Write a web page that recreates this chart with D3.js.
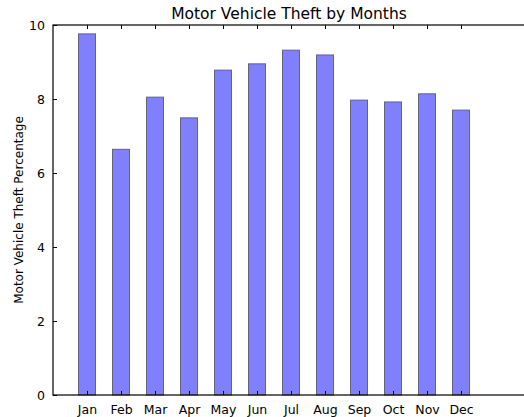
<!DOCTYPE html>
<html>
<head>
<meta charset="utf-8">
<script src="https://d3js.org/d3.v7.min.js"></script>
<style>
  body { margin: 0; background: #fff; }
  text { font-family: "DejaVu Sans", sans-serif; fill: #000; }
</style>
</head>
<body>
<div id="chart"></div>
<script>
var months = ["Jan", "Feb", "Mar", "Apr", "May", "Jun", "Jul", "Aug", "Sep", "Oct", "Nov", "Dec"];
var theftPct = [9.76, 6.64, 8.05, 7.49, 8.78, 8.95, 9.32, 9.19, 7.97, 7.92, 8.14, 7.70];
var yTicks = [0, 2, 4, 6, 8, 10];

var width = 524, height = 417;
// note: "top" is taken by window.top, so use plot* names
var plotLeft = 53, plotTop = 25, plotBottom = 395, plotRight = 529;

var svg = d3.select("#chart").append("svg")
  .attr("width", width)
  .attr("height", height);

// matplotlib style: bars at 0..11, xlim -1..13
var x = d3.scaleLinear().domain([-1, 13]).range([plotLeft, plotRight]);
var y = d3.scaleLinear().domain([0, 10]).range([plotBottom, plotTop]);
var barW = x(0.5) - x(0);

svg.selectAll("rect.bar")
  .data(theftPct)
  .enter()
  .append("rect")
  .attr("class", "bar")
  .attr("x", function(d, i) { return x(i) - barW / 2; })
  .attr("y", function(d) { return y(d); })
  .attr("width", barW)
  .attr("height", function(d) { return y(0) - y(d); })
  .attr("fill", "#8080ff")
  .attr("stroke", "#666")
  .attr("stroke-width", 1);

// frame
svg.append("rect")
  .attr("x", plotLeft).attr("y", plotTop)
  .attr("width", plotRight - plotLeft).attr("height", plotBottom - plotTop)
  .attr("fill", "none").attr("stroke", "#000").attr("stroke-width", 1.2);

// x axis ticks (inside, bottom + top)
var xAxis = d3.axisBottom(x)
  .tickValues(d3.range(months.length))
  .tickFormat(function(d) { return months[d]; })
  .tickSizeInner(-4).tickSizeOuter(0).tickPadding(10);
var gx = svg.append("g").attr("transform", "translate(0," + plotBottom + ")").call(xAxis);
gx.select(".domain").remove();
gx.selectAll("text").attr("font-size", 12.5).attr("font-family", "DejaVu Sans");

var xTop = d3.axisTop(x).tickValues(d3.range(months.length))
  .tickFormat("").tickSizeInner(-4).tickSizeOuter(0);
var gxt = svg.append("g").attr("transform", "translate(0," + plotTop + ")").call(xTop);
gxt.select(".domain").remove();

// y axis
var yAxis = d3.axisLeft(y).tickValues(yTicks).tickFormat(d3.format("d"))
  .tickSizeInner(-4).tickSizeOuter(0).tickPadding(8);
var gy = svg.append("g").attr("transform", "translate(" + plotLeft + ",0)").call(yAxis);
gy.select(".domain").remove();
gy.selectAll("text").attr("font-size", 12.5).attr("font-family", "DejaVu Sans");

// title
svg.append("text")
  .attr("x", (plotLeft + plotRight) / 2 - 2)
  .attr("y", 19)
  .attr("text-anchor", "middle")
  .attr("font-size", 15.5)
  .text("Motor Vehicle Theft by Months");

// y label
svg.append("text")
  .attr("transform", "translate(23," + ((plotTop + plotBottom) / 2) + ") rotate(-90)")
  .attr("text-anchor", "middle")
  .attr("font-size", 12)
  .text("Motor Vehicle Theft Percentage");
</script>
</body>
</html>
